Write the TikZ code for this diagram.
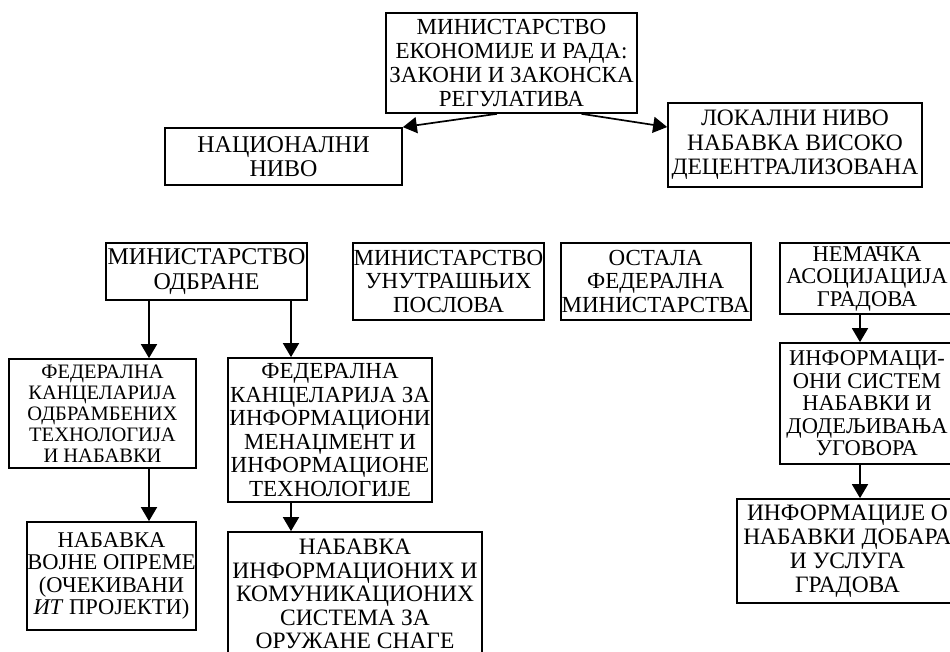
\documentclass[tikz,border=0pt]{standalone}
\usepackage{fontspec}
\setmainfont{Liberation Serif}
\usetikzlibrary{arrows.meta,positioning}

\newcommand{\boxfont}[2]{\fontsize{#1}{#2}\selectfont}

\begin{document}
\begin{tikzpicture}[->,>={Triangle[length=14pt,width=16pt]},x=1pt,y=1pt,
line width=1.7pt]
\tikzstyle{box}=[draw,rectangle,fill=white,inner sep=0pt,align=center,font=\boxfont{23}{23.5}]
\useasboundingbox (0,0) rectangle (950,652);

% top level
\node[box,minimum width=251pt,minimum height=100pt,font=\boxfont{23}{24}] (MER) at (511.5,589)
  {МИНИСТАРСТВО\\ЕКОНОМИЈЕ И РАДА:\\ЗАКОНИ И ЗАКОНСКА\\РЕГУЛАТИВА};
\node[box,minimum width=237pt,minimum height=57pt,font=\boxfont{24}{24.5}]  (NAC) at (283.5,495.5) {НАЦИОНАЛНИ\\НИВО};
\node[box,minimum width=254pt,minimum height=84pt,font=\boxfont{23.5}{24.5}]  (LOK) at (795,507)
  {ЛОКАЛНИ НИВО\\НАБАВКА ВИСОКО\\ДЕЦЕНТРАЛИЗОВАНА};

% ministries
\node[box,minimum width=201pt,minimum height=57pt,font=\boxfont{24}{24.5}]  (MO)  at (206.5,380.5) {МИНИСТАРСТВО\\ОДБРАНЕ};
\node[box,minimum width=191pt,minimum height=77pt]  (MUP) at (448.5,370.5) {МИНИСТАРСТВО\\УНУТРАШЊИХ\\ПОСЛОВА};
\node[box,minimum width=190pt,minimum height=77pt]  (OST) [right=15pt of MUP] {ОСТАЛА\\ФЕДЕРАЛНА\\МИНИСТАРСТВА};
\node[box,minimum width=174pt,minimum height=71pt,font=\boxfont{22.5}{22.5}]  (NEM) at (867,373.5) {НЕМАЧКА\\АСОЦИЈАЦИЈА\\ГРАДОВА};

% offices
\node[box,minimum width=187pt,minimum height=109pt,font=\boxfont{20.5}{21}] (FK1) at (102.5,238.5)
  {ФЕДЕРАЛНА\\КАНЦЕЛАРИЈА\\ОДБРАМБЕНИХ\\ТЕХНОЛОГИЈА\\И НАБАВКИ};
\node[box,minimum width=204pt,minimum height=144pt] (FK2) at (330,222)
  {ФЕДЕРАЛНА\\КАНЦЕЛАРИЈА ЗА\\ИНФОРМАЦИОНИ\\МЕНАЏМЕНТ И\\ИНФОРМАЦИОНЕ\\ТЕХНОЛОГИЈЕ};
\node[box,minimum width=174pt,minimum height=121pt,font=\boxfont{22.5}{22.5}] (INF) at (867,248.5)
  {ИНФОРМАЦИ-\\ОНИ СИСТЕМ\\НАБАВКИ И\\ДОДЕЉИВАЊА\\УГОВОРА};

% procurement
\node[box,minimum width=169pt,minimum height=108pt,font=\boxfont{22.5}{22.5}] (NAB1) at (111.5,76)
  {НАБАВКА\\ВОЈНЕ ОПРЕМЕ\\(ОЧЕКИВАНИ\\\textit{ИТ} ПРОЈЕКТИ)};
\node[box,minimum width=254pt,minimum height=124pt,font=\boxfont{23.5}{23.5}] (NAB2) at (355,58)
  {НАБАВКА\\ИНФОРМАЦИОНИХ И\\КОМУНИКАЦИОНИХ\\СИСТЕМА ЗА\\ОРУЖАНЕ СНАГЕ};
\node[box,minimum width=221pt,minimum height=104pt,font=\boxfont{23.5}{24}] (INFO) at (847.5,101)
  {ИНФОРМАЦИЈЕ О\\НАБАВКИ ДОБАРА\\И УСЛУГА\\ГРАДОВА};

\path
(MER.-106) edge (NAC.north east)
(MER.-36)  edge (LOK.172)
([xshift=-57.5pt]MO.south) edge ([xshift=46.5pt]FK1.north)
([xshift=84.5pt]MO.south)  edge ([xshift=-39pt]FK2.north)
([xshift=46.5pt]FK1.south) edge ([xshift=37.5pt]NAB1.north)
([xshift=-39pt]FK2.south)  edge ([xshift=-64pt]NAB2.north)
([xshift=-7pt]NEM.south)   edge ([xshift=-7pt]INF.north)
([xshift=-7pt]INF.south)   edge ([xshift=12.5pt]INFO.north);
\end{tikzpicture}
\end{document}
